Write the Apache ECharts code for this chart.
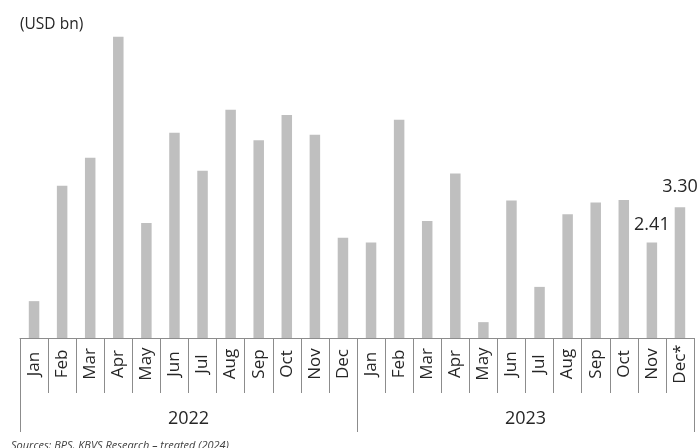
<!DOCTYPE html>
<html>
<head>
<meta charset="utf-8">
<script src="https://cdn.jsdelivr.net/npm/echarts@6/dist/echarts.min.js"></script>
<style>
  html, body { margin: 0; padding: 0; background: #ffffff; }
  #chart { width: 699px; height: 448px; }
</style>
</head>
<body>
<div id="chart"></div>
<script>
// Monthly values, USD bn
const months = ['Jan','Feb','Mar','Apr','May','Jun','Jul','Aug','Sep','Oct','Nov','Dec',
                'Jan','Feb','Mar','Apr','May','Jun','Jul','Aug','Sep','Oct','Nov','Dec*'];
const years = ['2022', '2023'];
const values2022 = [0.93, 3.84, 4.55, 7.60, 2.90, 5.18, 4.22, 5.76, 4.99, 5.63, 5.13, 2.53];
const values2023 = [2.41, 5.51, 2.95, 4.15, 0.40, 3.47, 1.29, 3.12, 3.42, 3.48, 2.41, 3.30];
const labelledMonths = [22, 23]; // indexes that show their value

const FONT = '"Open Sans", "Noto Sans", sans-serif';
const TEXT = '#262626';
const RULE = '#8c8c8c';

const allValues = values2022.concat(values2023);
const barData = allValues.map((v, i) => {
  const item = { value: v };
  if (labelledMonths.includes(i)) {
    item.label = {
      show: true,
      position: 'top',
      distance: i === 23 ? 11 : 9,
      formatter: (p) => p.value.toFixed(2),
      fontFamily: FONT,
      fontSize: 18,
      color: TEXT
    };
  }
  return item;
});

const chart = echarts.init(document.getElementById('chart'), null, { renderer: 'canvas' });
chart.setOption({
  animation: false,
  backgroundColor: '#ffffff',
  grid: { left: 20, right: 5, top: 21, bottom: 110 },
  graphic: [
    {
      type: 'text', left: 20, top: 17,
      style: { text: '(USD bn)', font: '15.5px ' + FONT, fill: TEXT }
    },
    {
      type: 'text', left: 11, top: 440,
      style: { text: 'Sources: BPS, KBVS Research – treated (2024)', font: 'italic 11px ' + FONT, fill: '#404040' }
    }
  ],
  xAxis: [
    {
      type: 'category',
      data: months,
      position: 'bottom',
      boundaryGap: true,
      axisLine: { show: true, lineStyle: { color: RULE, width: 1 } },
      axisTick: { show: true, interval: 0, length: 55, lineStyle: { color: RULE, width: 1 } },
      axisLabel: {
        interval: 0, rotate: 90, margin: 26, align: 'center', verticalAlign: 'middle',
        fontFamily: FONT, fontSize: 17, color: TEXT
      }
    },
    {
      type: 'category',
      data: years,
      position: 'bottom',
      offset: 55,
      boundaryGap: true,
      axisLine: { show: false },
      axisTick: { show: true, interval: 0, length: 39, lineStyle: { color: RULE, width: 1 } },
      axisLabel: { interval: 0, margin: 17, fontFamily: FONT, fontSize: 18, color: TEXT }
    }
  ],
  yAxis: { type: 'value', min: 0, max: 8, show: false, splitLine: { show: false } },
  series: [
    {
      type: 'bar',
      xAxisIndex: 0,
      data: barData,
      barWidth: 10.5,
      itemStyle: { color: '#bfbfbf' }
    }
  ]
});
</script>
</body>
</html>
